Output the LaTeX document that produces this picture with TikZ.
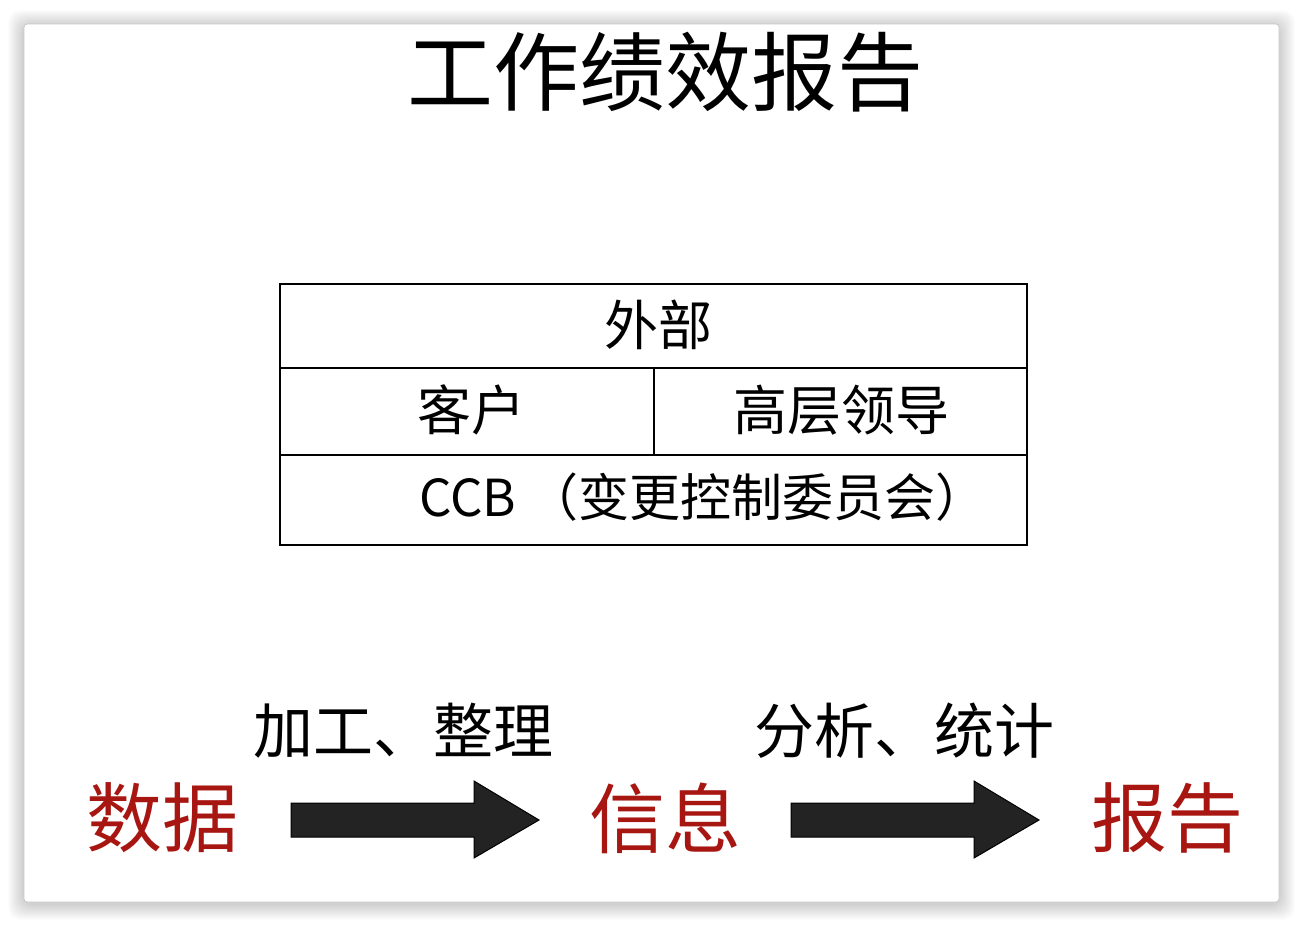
\documentclass[tikz,border=0pt]{standalone}
\usepackage{fontspec}
\setmainfont{Noto Sans CJK SC}
\newfontfamily\cjk{Noto Sans CJK SC}
\definecolor{flowred}{HTML}{A81612}
\definecolor{arrowfill}{HTML}{232323}
\begin{document}
\begin{tikzpicture}[x=1pt,y=-1pt,
  cell/.style={draw=black, line width=2.6pt, inner sep=0pt},
  celltext/.style={inner sep=0pt, font=\cjk\fontsize{54}{54}\selectfont},
  stage/.style={text=flowred, inner sep=0pt, font=\cjk\fontsize{76}{76}\selectfont},
  steplabel/.style={inner sep=0pt, font=\cjk\fontsize{60}{60}\selectfont},
  blockarrow/.style={fill=arrowfill, draw=black, line width=1pt, line join=miter}
]
\useasboundingbox (0,0) rectangle (1304,927);
% soft drop shadow around the card
\foreach \i in {1,...,16}
  \fill[black, opacity=0.011, rounded corners=12pt]
    (24-\i, 26-\i) rectangle (1279+\i, 904+\i);
% card
\fill[white, rounded corners=3pt] (24,24) rectangle (1279,902);
\draw[black!22, line width=0.8pt, rounded corners=3pt] (24,24) rectangle (1279,902);

% title
\node[inner sep=0pt, font=\cjk\fontsize{86}{86}\selectfont] (title) at (665,72) {工作绩效报告};

% stakeholder table
\node[cell, minimum width=747, minimum height=84] (outer) at (653.5,326) {};
\node[celltext] (outertext) at (658,325) {外部};
\node[cell, minimum width=374, minimum height=87] (client) at (467,411.5) {};
\node[celltext] (clienttext) at (471,410) {客户};
\node[cell, minimum width=373, minimum height=87] (mgmt) at (840.5,411.5) {};
\node[celltext] (mgmttext) at (841,410) {高层领导};
\node[cell, minimum width=747, minimum height=90] (ccb) at (653.5,500) {};
\node[celltext, anchor=west, font=\cjk\fontsize{51}{51}\selectfont] (ccbtext) at (419,497) {CCB （变更控制委员会）};

% flow: data -> information -> report
\node[stage] (data) at (162,818) {数据};
\node[stage] (info) at (665,818) {信息};
\node[stage] (report) at (1167,818) {报告};

\coordinate (a1) at (291,820);
\coordinate (a2) at (791,820);
\foreach \a in {a1,a2}
  \draw[blockarrow] (\a) ++(0,-17) -- ++(183,0) -- ++(0,-22) -- ++(65,39)
    -- ++(-65,38) -- ++(0,-21) -- ++(-183,0) -- cycle;

\node[steplabel] (lab1) at (403,731) {加工、整理};
\node[steplabel] (lab2) at (904,731) {分析、统计};
\end{tikzpicture}
\end{document}
